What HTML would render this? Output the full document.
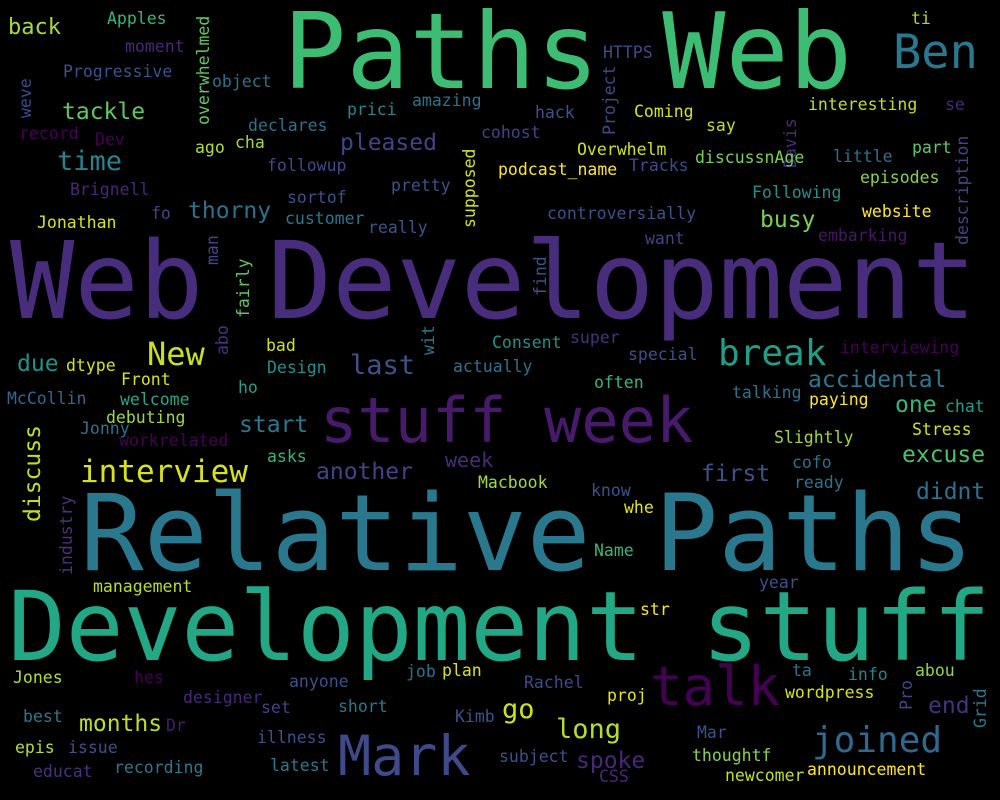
<!DOCTYPE html>
<html><head><meta charset="utf-8"><style>
html,body{margin:0;padding:0;background:#000;}
svg{display:block;}
text{font-family:"DejaVu Sans Mono","Liberation Mono",monospace;}
</style></head><body>
<svg id="cloud" width="1000" height="800" viewBox="0 0 1000 800" xmlns="http://www.w3.org/2000/svg">
<rect width="1000" height="800" fill="#000"/>
<g id="words"></g>
</svg>
<script>
// word, x, baseline y, font size, color, vertical
const words = [
["Paths Web",283,88,105,"#3dbc74",0],
["Web Development",10,318,107,"#472d7b",0],
["Relative Paths",80,570,106,"#2a788e",0],
["Development stuff",8,660,96,"#22a884",0],
["stuff week",320,442,62,"#481a6c",0],
["talk",650,705,54,"#440154",0],
["Mark",338,775,55,"#3e4a89",0],
["Ben",893,68,47,"#2a788e",0],
["joined",812,752,36,"#31688e",0],
["break",718,365,36,"#1f9e89",0],
["interview",80,482,31,"#d8e219",0],
["New",147,365,32,"#c8e020",0],
["time",57,170,27,"#25858e",0],
["tackle",62,119,23,"#5ec962",0],
["thorny",188,218,23,"#2c728e",0],
["pleased",340,150,23,"#414487",0],
["last",350,374,27,"#3b528b",0],
["busy",760,227,23,"#7ad151",0],
["long",556,738,27,"#b5de2b",0],
["go",502,718,27,"#d0e11c",0],
["months",79,731,23,"#bddf26",0],
["spoke",576,768,23,"#482878",0],
["end",928,713,23,"#46327e",0],
["accidental",808,387,23,"#2a788e",0],
["one",895,412,23,"#35b779",0],
["excuse",902,462,23,"#4ac16d",0],
["first",701,481,23,"#3b528b",0],
["week",445,467,20,"#472c7a",0],
["another",316,479,23,"#414487",0],
["start",239,432,23,"#2a788e",0],
["due",17,371,23,"#21918c",0],
["didnt",916,499,23,"#2c728e",0],
["discuss",40,522,23,"#bddf26",1],
["back",8,34,22,"#a8db34",0],
["Apples",107,24,16.5,"#35b779",0],
["moment",125,52,16.5,"#482878",0],
["Progressive",63,77,16.5,"#3b528b",0],
["overwhelmed",209,125,16.5,"#5ec962",1],
["object",212,87,16.5,"#2c728e",0],
["weve",31,118,16.5,"#3e4a89",1],
["record",19,139,16.5,"#440154",0],
["Dev",95,145,16.5,"#440154",0],
["Brignell",70,195,16.5,"#482878",0],
["prici",347,115,16.5,"#25858e",0],
["declares",248,131,16.5,"#2c728e",0],
["ago",195,153,16.5,"#b5de2b",0],
["cha",235,148,16.5,"#a0da39",0],
["followup",267,171,16.5,"#3e4a89",0],
["sortof",287,203,16.5,"#3b528b",0],
["customer",285,224,16.5,"#2a788e",0],
["really",368,233,16.5,"#39568c",0],
["fo",151,219,16.5,"#414487",0],
["Jonathan",37,228,16.5,"#d8e219",0],
["man",218,265,16.5,"#3e4a89",1],
["fairly",249,318,16.5,"#5ec962",1],
["abo",228,355,16.5,"#46327e",1],
["wit",434,355,16.5,"#2a788e",1],
["amazing",412,106,16.5,"#2c728e",0],
["cohost",481,138,16.5,"#414487",0],
["hack",535,118,16.5,"#3b528b",0],
["HTTPS",603,58,16.5,"#3e4a89",0],
["Project",615,135,16.5,"#3e4a89",1],
["Coming",634,117,16.5,"#d8e219",0],
["say",706,131,16.5,"#c2df23",0],
["Davis",796,168,16.5,"#472d7b",1],
["interesting",808,110,16.5,"#bddf26",0],
["ti",911,24,16.5,"#a8db34",0],
["se",945,110,16.5,"#482878",0],
["part",912,153,16.5,"#5ec962",0],
["little",833,162,16.5,"#2c728e",0],
["episodes",860,183,16.5,"#86d549",0],
["description",968,245,16.5,"#404588",1],
["website",862,217,16.5,"#fde725",0],
["embarking",818,241,16.5,"#481668",0],
["want",645,244,16.5,"#414487",0],
["Following",752,198,16.5,"#21918c",0],
["discussnAge",695,163,16.5,"#7ad151",0],
["Tracks",629,171,16.5,"#3e4a89",0],
["Overwhelm",577,155,16.5,"#d2e21b",0],
["podcast_name",498,175,16.5,"#fde725",0],
["supposed",475,228,16.5,"#d8e219",1],
["pretty",391,191,16.5,"#3b528b",0],
["controversially",547,219,16.5,"#3b528b",0],
["find",546,296,16.5,"#3b528b",1],
["Consent",492,348,16.5,"#21918c",0],
["super",570,343,16.5,"#46337e",0],
["special",628,360,16.5,"#3b528b",0],
["interviewing",840,353,16.5,"#440154",0],
["bad",266,351,16.5,"#d2e21b",0],
["Design",267,373,16.5,"#21918c",0],
["actually",453,372,16.5,"#2c728e",0],
["Front",121,385,16.5,"#d8e219",0],
["dtype",66,371,16.5,"#d8e219",0],
["McCollin",7,404,16.5,"#31688e",0],
["ho",238,393,16.5,"#1f9e89",0],
["welcome",120,405,16.5,"#22a884",0],
["debuting",106,423,16.5,"#a0da39",0],
["Jonny",80,434,16.5,"#2c728e",0],
["workrelated",119,446,16.5,"#440154",0],
["often",594,388,16.5,"#35b779",0],
["talking",732,398,16.5,"#2c728e",0],
["paying",809,405,16.5,"#fde725",0],
["chat",945,412,16.5,"#1f9e89",0],
["Stress",912,435,16.5,"#d2e21b",0],
["Slightly",774,443,16.5,"#a0da39",0],
["cofo",792,468,16.5,"#2c728e",0],
["asks",267,462,16.5,"#35b779",0],
["Macbook",478,488,16.5,"#a0da39",0],
["know",591,496,16.5,"#3b528b",0],
["whe",624,513,16.5,"#e5e419",0],
["ready",794,488,16.5,"#2c728e",0],
["industry",72,575,16.5,"#46337e",1],
["Name",594,556,16.5,"#35b779",0],
["management",93,592,16.5,"#b5de2b",0],
["year",759,588,16.5,"#3b528b",0],
["str",640,615,16.5,"#fde725",0],
["Jones",13,683,16.5,"#b5de2b",0],
["hes",134,683,16.5,"#440154",0],
["anyone",289,687,16.5,"#3b528b",0],
["job",406,677,16.5,"#2c728e",0],
["plan",442,676,16.5,"#d8e219",0],
["Rachel",524,688,16.5,"#3e4a89",0],
["proj",607,701,16.5,"#e5e419",0],
["ta",792,676,16.5,"#2c728e",0],
["info",848,680,16.5,"#25858e",0],
["abou",915,676,16.5,"#90d743",0],
["wordpress",785,698,16.5,"#d8e219",0],
["Pro",912,710,16.5,"#414487",1],
["Grid",986,728,16.5,"#2a788e",1],
["designer",183,703,16.5,"#482878",0],
["best",23,722,16.5,"#2a788e",0],
["set",261,713,16.5,"#414487",0],
["short",338,712,16.5,"#2a788e",0],
["Dr",166,731,16.5,"#481a6c",0],
["Kimb",455,722,16.5,"#3b528b",0],
["Mar",697,738,16.5,"#3b528b",0],
["epis",15,753,16.5,"#b5de2b",0],
["issue",68,753,16.5,"#3b528b",0],
["illness",257,743,16.5,"#3b528b",0],
["subject",499,762,16.5,"#3b528b",0],
["thoughtf",692,761,16.5,"#86d549",0],
["educat",33,777,16.5,"#46337e",0],
["recording",114,773,16.5,"#2a788e",0],
["latest",270,771,16.5,"#2a788e",0],
["CSS",599,782,16.5,"#482878",0],
["newcomer",725,781,16.5,"#c2df23",0],
["announcement",807,775,16.5,"#fde725",0]
];
const g = document.getElementById('words');
const NS = "http://www.w3.org/2000/svg";
for (const w of words) {
  const t = document.createElementNS(NS, 'text');
  
  
  t.setAttribute('font-size', w[3]);
  t.setAttribute('fill', w[4]);
  if (w[5]) {
    t.setAttribute('x', 0); t.setAttribute('y', 0);
    t.setAttribute('transform', 'translate(' + w[1] + ',' + w[2] + ') rotate(-90)');
  } else {
    t.setAttribute('x', w[1]); t.setAttribute('y', w[2]);
  }
  t.textContent = w[0];
  g.appendChild(t);
}
</script>
</body></html>
